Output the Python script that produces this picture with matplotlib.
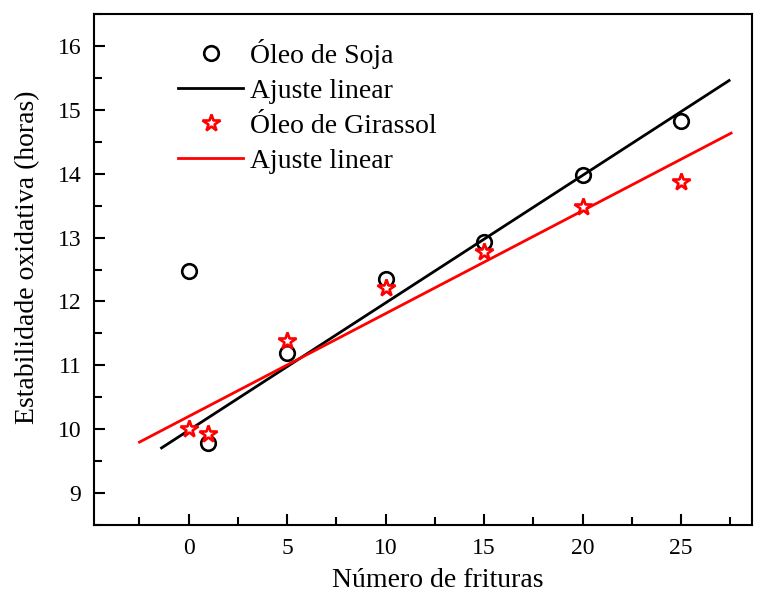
import numpy as np
import matplotlib
matplotlib.use("Agg")
import matplotlib.pyplot as plt
from matplotlib.ticker import MultipleLocator

plt.rcParams["font.family"] = ["Liberation Serif", "DejaVu Serif"]

# number of fryings
frituras = np.array([0, 1, 5, 10, 15, 20, 25])
# oxidative stability (hours)
soja = np.array([12.47, 9.79, 11.19, 12.35, 12.93, 13.98, 14.82])
girassol = np.array([10.00, 9.93, 11.38, 12.21, 12.77, 13.48, 13.87])

# the soybean fit leaves out the first (x=0) point
soja_fit_mask = frituras > 0
soja_fit_range = [-1.37, 27.44]
girassol_fit_range = [-2.49, 27.54]

p_soja = np.polyfit(frituras[soja_fit_mask], soja[soja_fit_mask], 1)
p_gir = np.polyfit(frituras, girassol, 1)
xs = np.linspace(*soja_fit_range, 50)
xg = np.linspace(*girassol_fit_range, 50)

fig = plt.figure(figsize=(7.66, 5.99), dpi=100)
ax = fig.add_axes([0.1227, 0.1235, 0.859, 0.853])

ax.plot(frituras, soja, "o", ms=10.5, mfc="none", mec="black", mew=1.9,
        label="Óleo de Soja", zorder=3)
ax.plot(xs, np.polyval(p_soja, xs), color="black", lw=2.0, label="Ajuste linear")
ax.plot(frituras, girassol, "*", ms=13, mfc="white", mec="red", mew=1.9,
        label="Óleo de Girassol", zorder=4)
ax.plot(xg, np.polyval(p_gir, xg), color="red", lw=2.0, label="Ajuste linear")

ax.set_xlim(-4.8, 28.6)
ax.set_ylim(8.5, 16.5)
ax.xaxis.set_major_locator(MultipleLocator(5))
ax.xaxis.set_minor_locator(MultipleLocator(2.5))
ax.yaxis.set_major_locator(MultipleLocator(1))
ax.yaxis.set_minor_locator(MultipleLocator(0.5))
ax.set_xticks([0, 5, 10, 15, 20, 25])

ax.tick_params(which="major", direction="in", length=8, width=1.5,
               labelsize=17)
ax.tick_params(axis="y", which="major", pad=9)
ax.tick_params(axis="x", which="major", pad=9)
ax.tick_params(which="minor", direction="in", length=5.5, width=1.5)
ax.tick_params(top=False, right=False, which="both")
for sp in ax.spines.values():
    sp.set_linewidth(1.5)

ax.set_xlabel("Número de frituras", fontsize=20, labelpad=7)
ax.set_ylabel("Estabilidade oxidativa (horas)", fontsize=20, labelpad=12.5)
ax.xaxis.label.set_x(0.523)
ax.yaxis.label.set_y(0.525)

ax.legend(loc="upper left", bbox_to_anchor=(0.128, 0.952), frameon=False,
          fontsize=20, handlelength=2.34, handletextpad=0.25, labelspacing=0.35,
          borderpad=0, borderaxespad=0)

fig.savefig("out.png", dpi=100)
